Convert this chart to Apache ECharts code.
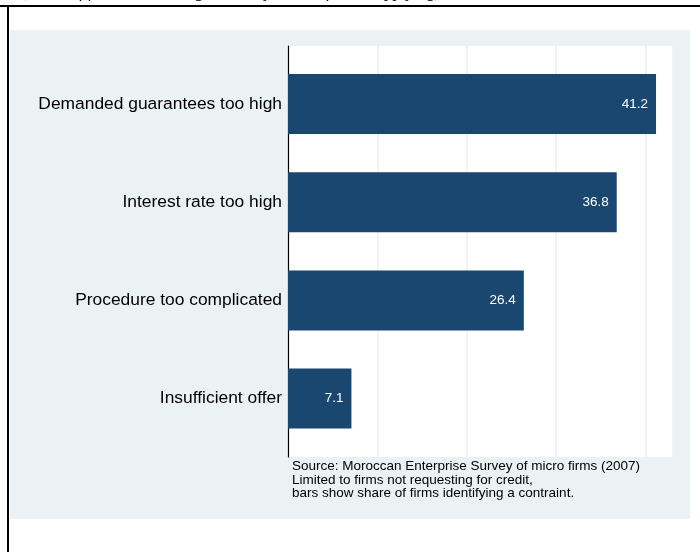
<!DOCTYPE html>
<html>
<head>
<meta charset="utf-8">
<script src="https://cdn.jsdelivr.net/npm/echarts@6/dist/echarts.min.js"></script>
<style>
  html, body { margin: 0; padding: 0; background: #ffffff; }
  #chart { width: 700px; height: 552px; }
</style>
</head>
<body>
<div id="chart"></div>
<script>
// Reasons cited by firms that did not request credit
const categories = [
  'Demanded guarantees too high',
  'Interest rate too high',
  'Procedure too complicated',
  'Insufficient offer'
];
const shares = [41.2, 36.8, 26.4, 7.1];

const axisMax = 43.1;
const tickStep = 10;

const noteLines = [
  'Source: Moroccan Enterprise Survey of micro firms (2007)',
  'Limited to firms not requesting for credit,',
  'bars show share of firms identifying a contraint.'
];
const headerText = '(Share of firms not seeking credit, by reason for not applying)';

const navy = '#1a476f';
const panel = '#eaf2f3';
const sans = '"Liberation Sans", Arial, Helvetica, sans-serif';

const chart = echarts.init(document.getElementById('chart'), null, { renderer: 'canvas' });

chart.setOption({
  backgroundColor: '#ffffff',
  animation: false,
  graphic: [
    // outer light panel
    { type: 'rect', z: -10, silent: true,
      shape: { x: 10, y: 30, width: 680, height: 489 },
      style: { fill: panel } },
    // caption line cut off at the top of the page
    { type: 'text', z: 1, silent: true, x: 22, y: 0.9,
      style: { text: headerText, fill: '#000',
               font: 'italic 17px "Liberation Serif", "Times New Roman", serif',
               verticalAlign: 'bottom' } },
    // page frame lines
    { type: 'rect', z: 5, silent: true,
      shape: { x: 0, y: 5, width: 700, height: 2 }, style: { fill: '#000' } },
    { type: 'rect', z: 5, silent: true,
      shape: { x: 7, y: 5, width: 2, height: 547 }, style: { fill: '#000' } },
    // source note
    { type: 'text', z: 5, silent: true, x: 292, y: 460,
      style: { text: noteLines.join('\n'), fill: '#000',
               font: '13.5px ' + sans, lineHeight: 13.5 } }
  ],
  grid: [
    // white plot region with grid lines
    { left: 288, right: 27, top: 46, bottom: 95, show: true,
      backgroundColor: '#ffffff', borderWidth: 0, containLabel: false },
    // bar band region
    { left: 288, right: 27, top: 55, bottom: 104.4, containLabel: false }
  ],
  xAxis: [
    { gridIndex: 0, type: 'value', min: 0, max: axisMax, interval: tickStep,
      axisLine: { show: false }, axisTick: { show: false }, axisLabel: { show: false },
      splitLine: { show: true, lineStyle: { color: panel, width: 1.5 } } },
    { gridIndex: 1, type: 'value', min: 0, max: axisMax, interval: tickStep,
      axisLine: { show: false }, axisTick: { show: false }, axisLabel: { show: false },
      splitLine: { show: false } }
  ],
  yAxis: [
    { gridIndex: 0, type: 'value', min: 0, max: 1,
      axisLine: { show: true, lineStyle: { color: '#000', width: 1.2 } },
      axisTick: { show: false }, axisLabel: { show: false }, splitLine: { show: false } },
    { gridIndex: 1, type: 'category', data: categories, inverse: true,
      axisLine: { show: false }, axisTick: { show: false }, splitLine: { show: false },
      axisLabel: { color: '#000', fontSize: 17.4, fontFamily: sans, margin: 6 } }
  ],
  series: [{
    type: 'bar',
    xAxisIndex: 1,
    yAxisIndex: 1,
    data: shares,
    barWidth: 60,
    itemStyle: { color: navy },
    label: {
      show: true,
      position: 'insideRight',
      distance: 8,
      color: '#ffffff',
      fontSize: 13.5,
      fontFamily: sans,
      formatter: p => p.value.toFixed(1)
    }
  }]
});
</script>
</body>
</html>
